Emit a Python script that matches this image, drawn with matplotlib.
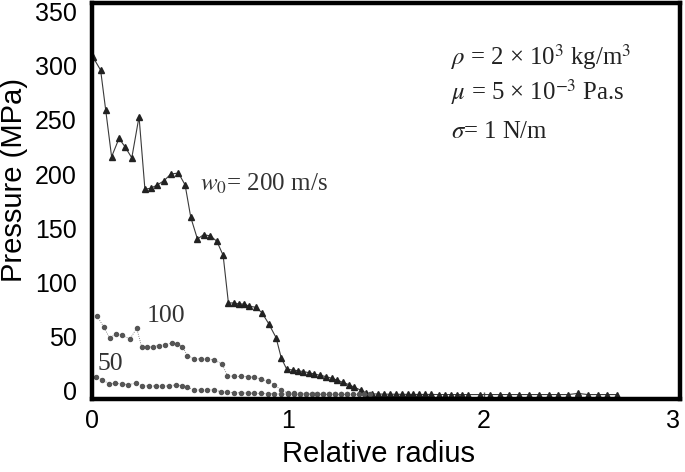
import numpy as np
import matplotlib
matplotlib.use("Agg")
import matplotlib.pyplot as plt

#------------------------------------- data -------------------------------------#

x200 = [0.005, 0.044, 0.07, 0.10, 0.138, 0.169, 0.203, 0.24, 0.27, 0.30, 0.334, 0.368, 0.402, 0.441,
        0.475, 0.504, 0.538, 0.569, 0.603, 0.637, 0.669, 0.696, 0.726, 0.751, 0.777, 0.802, 0.836,
        0.867, 0.901, 0.939, 0.966, 0.993, 1.024, 1.049, 1.078, 1.105, 1.134, 1.163, 1.194, 1.223,
        1.25, 1.279, 1.31, 1.339, 1.37, 1.398, 1.429, 1.46, 1.49, 1.52, 1.55, 1.58, 1.61, 1.64, 1.67,
        1.70, 1.73, 1.77, 1.80, 1.83, 1.86, 1.89, 1.92, 1.98, 2.03, 2.08, 2.13, 2.18, 2.23, 2.28,
        2.33, 2.38, 2.43, 2.48, 2.53, 2.58, 2.63, 2.68]
p200 = [308, 296, 259, 216, 233, 225, 215, 253, 186, 187, 190, 194, 200, 201,
        190, 160, 140, 144, 143, 138, 125, 81, 81, 80, 80, 78, 77,
        72, 62, 49, 30, 20, 19, 18.5, 17.6, 16.7, 15.4, 14.2, 13, 11.4,
        9.9, 7.7, 5.6, 3.1, 0.6, -2.1, -3, -3.1, -3.2, -3.3, -3.3, -3.4, -3.4, -3.5, -3.5,
        -3.5, -3.5, -3.6, -3.6, -3.6, -3.6, -3.6, -3.6, -3.6, -3.6, -3.6, -3.6, -3.6, -3.6, -3.6,
        -3.6, -3.6, -3.6, -2.5, -3.6, -3.6, -3.6, -3.6]

x100 = [0.027, 0.061, 0.09, 0.121, 0.152, 0.194, 0.228, 0.254, 0.283, 0.312, 0.342, 0.373, 0.407,
        0.433, 0.461, 0.487, 0.521, 0.555, 0.589, 0.623, 0.663, 0.691, 0.726, 0.76, 0.794, 0.828,
        0.862, 0.896, 0.93, 0.964, 0.998, 1.03, 1.06, 1.09, 1.12, 1.15, 1.18, 1.21, 1.24, 1.27,
        1.30, 1.33, 1.36, 1.39, 1.42]
p100 = [68.5, 58.6, 48.4, 52.5, 51, 47.8, 57.7, 40, 40, 40.7, 41.7, 42.6, 43.8,
        43.2, 40.7, 32.4, 29.3, 29.3, 29, 28.4, 24.7, 13.9, 13.2, 13.2, 13, 12.3,
        10.8, 8.6, 5.6, 0.6, -2.1, -2.5, -2.7, -2.9, -3, -3.1, -3.2, -3.3, -3.3, -3.4,
        -3.4, -3.5, -3.5, -3.5, -3.5]

x50 = [0.019, 0.053, 0.087, 0.118, 0.152, 0.186, 0.223, 0.257, 0.291, 0.325, 0.359, 0.393, 0.431,
       0.461, 0.487, 0.521, 0.555, 0.589, 0.623, 0.658, 0.691, 0.726, 0.76, 0.794, 0.828, 0.862,
       0.896, 0.93, 0.964, 1.0, 1.03, 1.06, 1.09, 1.12, 1.15, 1.18, 1.21, 1.24, 1.27, 1.30]
p50 = [12.3, 10.2, 6.2, 6.8, 6.2, 5.6, 6.8, 4.6, 4.3, 4.3, 4.3, 4.3, 5.6,
       4.3, 3.1, 0.6, 0.6, 0.9, 0.6, -0.9, -1.5, -1.8, -2.0, -2.2, -2.4, -2.6,
       -2.8, -3.0, -3.1, -3.2, -3.3, -3.3, -3.4, -3.4, -3.5, -3.5, -3.5, -3.5, -3.5, -3.5]

xticks = [0, 1, 2, 3]
yticks = [0, 50, 100, 150, 200, 250, 300, 350]

#------------------------------------- figure -------------------------------------#

plt.rcParams["mathtext.fontset"] = "stix"
serif = "Liberation Serif"
sans = "Liberation Sans"

fig = plt.figure(figsize=(6.85, 4.72), dpi=100)
ax = fig.add_axes([92/685, 1-399/472, 588/685, 396/472])

ax.plot(x200, p200, color="#3a3a3a", lw=0.8, marker="^", ms=4, mfc="#222222", mec="#222222")
ax.plot(x100, p100, color="#666666", lw=0.6, ls=":", marker="o", ms=2.9, mfc="#555555", mec="#555555")
ax.plot(x50, p50, color="#666666", lw=0.6, ls=":", marker="o", ms=2.9, mfc="#555555", mec="#555555")

ax.set_xlim(0, 3)
ax.set_ylim(-7.7, 358)
ax.set_xticks(xticks)
ax.set_yticks(yticks)
ax.set_xticklabels([str(t) for t in xticks], fontsize=18, family=sans)
ax.set_yticklabels([str(t) for t in yticks], fontsize=18, family=sans)
ax.get_xticklabels()[-1].set_ha("right")   # keep the "3" inside the picture
ax.tick_params(axis="x", direction="in", length=5, width=1, color="#555555", pad=7)
ax.tick_params(axis="y", length=0, pad=11)

for s in ax.spines.values():
    s.set_linewidth(3.2)
    s.set_color("black")

fig.text(14/685, 1-180/472, "Pressure (MPa)", rotation=90, ha="center", va="center",
         fontsize=21, family=sans)
fig.text(378/685, 1-454/472, "Relative radius", ha="center", va="center",
         fontsize=21, family=sans)

tcol = "#333333"
ax.text(0.55, 184.8, r"$w_0$= 200 m/s", fontsize=18, family=serif, color=tcol, va="baseline")
ax.text(0.28, 63.5, "100", fontsize=18.5, family=serif, color=tcol, va="baseline")
ax.text(0.03, 19, "50", fontsize=18.5, family=serif, color=tcol, va="baseline")

pcol = "#222222"
ax.text(1.83, 301, r"$\rho$ = 2 × 10$^3$ kg/m$^3$", fontsize=17.8, family=serif, color=pcol, va="baseline")
ax.text(1.83, 268.7, r"$\mu$ = 5 × 10$^{-3}$ Pa.s", fontsize=17.8, family=serif, color=pcol, va="baseline")
ax.text(1.83, 233.5, r"$\sigma$= 1 N/m", fontsize=17.8, family=serif, color=pcol, va="baseline")

fig.savefig("out.png", dpi=100)
